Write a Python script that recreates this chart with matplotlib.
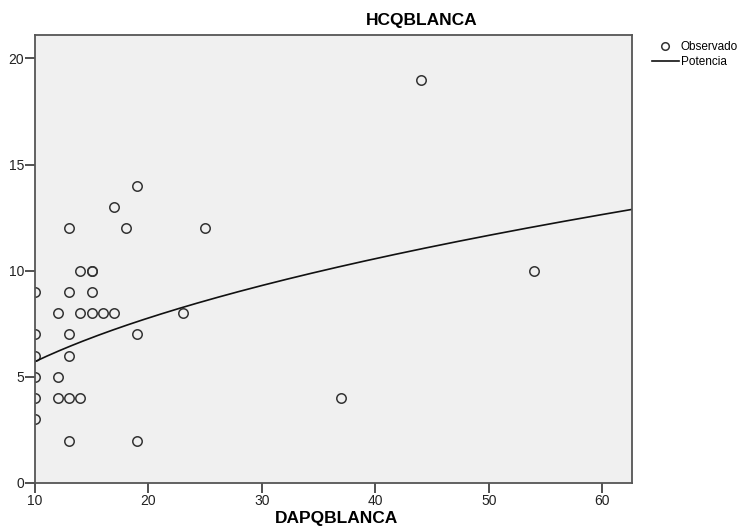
import matplotlib
matplotlib.use('Agg')
import matplotlib.pyplot as plt
import numpy as np

plt.rcParams['font.family'] = ['Liberation Sans', 'DejaVu Sans']

# observed points (DAPQBLANCA, HCQBLANCA)
dap = np.array([10, 10, 10, 10, 10, 10,
                12, 12, 12,
                13, 13, 13, 13, 13, 13,
                14, 14, 14,
                15, 15, 15, 15,
                16, 17, 17, 18,
                19, 19, 19,
                23, 25, 37, 44, 54])
hcq = np.array([9, 7, 6, 5, 4, 3,
                8, 5, 4,
                12, 9, 7, 6, 4, 2,
                10, 8, 4,
                10, 10, 9, 8,
                8, 13, 8, 12,
                14, 7, 2,
                8, 12, 4, 19, 10])

# power fit y = a * x^b (least squares on logs)
b, loga = np.polyfit(np.log(dap), np.log(hcq), 1)
a = np.exp(loga)

fig = plt.figure(figsize=(7.51, 5.31), dpi=100)
ax = fig.add_axes([35/751, 1-483/531, (632-35)/751, (483-35)/531])
ax.set_facecolor('#f0f0f0')

xs = np.linspace(10, 62.6, 200)
ax.plot(dap, hcq, linestyle='none', marker='o', markersize=6.8,
        markerfacecolor='none', markeredgecolor='#333333', markeredgewidth=1.1,
        label='Observado')
ax.plot(xs, a*xs**b, color='#111111', lw=1.2, label='Potencia')

ax.set_xlim(10, 62.6)
ax.set_ylim(0, 21.1)
ax.set_xticks([10, 20, 30, 40, 50, 60])
ax.set_yticks([0, 5, 10, 15, 20])
for s in ax.spines.values():
    s.set_color('#555555')
    s.set_linewidth(1.3)
ax.tick_params(direction='out', length=7, width=1.2, color='#333333',
               labelsize=10, labelcolor='#222222', pad=1)

fig.text(422/751, 1-21/531, 'HCQBLANCA', ha='center', va='center',
         fontsize=12.5, fontweight='bold')
fig.text(337/751, 1-519/531, 'DAPQBLANCA', ha='center', va='center',
         fontsize=12.5, fontweight='bold')

leg = fig.legend(loc='upper left', bbox_to_anchor=(646/751, 1-35/531),
                 frameon=False, fontsize=8.5, handlelength=2.3,
                 handletextpad=0.15, labelspacing=0.3, borderpad=0,
                 markerscale=0.8)

fig.savefig('out.png', dpi=100)
